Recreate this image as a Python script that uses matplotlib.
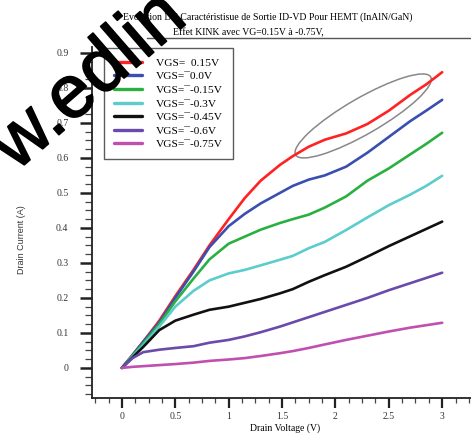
import numpy as np
import matplotlib
matplotlib.use("Agg")
import matplotlib.pyplot as plt
import matplotlib.patheffects as pe
from matplotlib.patches import Ellipse
from matplotlib.transforms import IdentityTransform
from matplotlib.ticker import MultipleLocator, FixedLocator

# drain voltage (V)
vds = [0, 0.1, 0.2, 0.35, 0.5, 0.67, 0.82, 1.0, 1.15, 1.3, 1.48, 1.6, 1.75,
       1.9, 2.1, 2.3, 2.5, 2.7, 2.85, 3.0]

# drain current (A) for each gate voltage
id_p015 = [0, 0.037, 0.075, 0.135, 0.205, 0.28, 0.35, 0.425, 0.485, 0.535, 0.58,
           0.605, 0.632, 0.652, 0.67, 0.697, 0.735, 0.78, 0.81, 0.845]
id_000 = [0, 0.037, 0.075, 0.13, 0.2, 0.275, 0.345, 0.405, 0.44, 0.47, 0.5,
          0.52, 0.538, 0.55, 0.575, 0.615, 0.66, 0.705, 0.735, 0.766]
id_m015 = [0, 0.035, 0.07, 0.125, 0.19, 0.255, 0.31, 0.355, 0.375, 0.395, 0.414,
           0.425, 0.438, 0.458, 0.49, 0.535, 0.57, 0.61, 0.64, 0.672]
id_m030 = [0, 0.033, 0.065, 0.118, 0.175, 0.22, 0.25, 0.27, 0.28, 0.293, 0.309,
           0.32, 0.342, 0.36, 0.394, 0.43, 0.465, 0.495, 0.52, 0.549]
id_m045 = [0, 0.03, 0.06, 0.108, 0.135, 0.152, 0.166, 0.175, 0.186, 0.197, 0.213,
           0.225, 0.246, 0.265, 0.289, 0.318, 0.348, 0.376, 0.397, 0.418]
id_m060 = [0, 0.028, 0.045, 0.052, 0.057, 0.062, 0.072, 0.08, 0.09, 0.102, 0.118,
           0.13, 0.145, 0.16, 0.18, 0.2, 0.222, 0.242, 0.257, 0.272]
id_m075 = [0, 0.003, 0.005, 0.008, 0.011, 0.015, 0.02, 0.024, 0.028, 0.034, 0.042,
           0.048, 0.057, 0.067, 0.08, 0.092, 0.104, 0.115, 0.122, 0.129]

labels = ["VGS=  0.15V", "VGS=\u00af0.0V", "VGS=\u00af-0.15V", "VGS=\u00af-0.3V",
          "VGS=\u00af-0.45V", "VGS=\u00af-0.6V", "VGS=\u00af-0.75V"]
series = [id_p015, id_000, id_m015, id_m030, id_m045, id_m060, id_m075]
colors = ["#ff2222", "#3a4fb0", "#2ab040", "#5ccccc", "#111111", "#6a4aaa", "#c050b0"]

W, H = 471, 443
fig = plt.figure(figsize=(W / 100, H / 100), dpi=100)
ax = fig.add_axes([92 / W, 1 - 398 / H, 1 - 92 / W, (398 - 47) / H])

for y, c, lab in zip(series, colors, labels):
    ax.plot(vds, y, color=c, lw=1.9, label=lab, solid_joinstyle="round",
            solid_capstyle="round")

ax.set_xlim(-0.28, 3.27)
ax.set_ylim(-0.086, 0.917)

for s in ["top", "right"]:
    ax.spines[s].set_visible(False)
for s in ["left", "bottom"]:
    ax.spines[s].set_linewidth(1.3)
    ax.spines[s].set_color("#222222")

ax.xaxis.set_major_locator(FixedLocator([0, 0.5, 1, 1.5, 2, 2.5, 3]))
ax.xaxis.set_minor_locator(MultipleLocator(0.125))
ax.yaxis.set_major_locator(FixedLocator(np.round(np.arange(0, 0.95, 0.1), 1)))
ax.yaxis.set_minor_locator(MultipleLocator(0.025))
ax.set_xticklabels(["0", "0.5", "1", "1.5", "2", "2.5", "3"])
ax.set_yticklabels(["0", "0.1", "0.2", "0.3", "0.4", "0.5", "0.6", "0.7", "0.8", "0.9"])
ax.tick_params(axis="x", which="major", direction="out", length=7, width=1.6,
               pad=3, labelsize=7, colors="#222222")
ax.tick_params(axis="x", which="minor", direction="out", length=3.5, width=0.9,
               colors="#444444")
ax.tick_params(axis="y", which="major", direction="out", length=9, width=1.8,
               pad=8, labelsize=7, colors="#222222")
ax.tick_params(axis="y", which="minor", direction="out", length=5, width=0.9,
               colors="#444444")
for t in ax.get_xticklabels() + ax.get_yticklabels():
    t.set_family("Liberation Serif")
    t.set_color("#333333")

leg = ax.legend(loc="upper left", bbox_to_anchor=(0.032, 0.997), borderaxespad=0,
                fancybox=False, frameon=True, handlelength=2.5, handletextpad=1.2,
                borderpad=0.85, labelspacing=0.32,
                prop={"family": "Liberation Serif", "size": 8.2})
leg.get_frame().set_edgecolor("#333333")
leg.get_frame().set_linewidth(1.0)
for h in leg.get_lines():
    h.set_linewidth(2.4)

# KINK ellipse
cx, cy = ax.transData.transform((2.26, 0.72))
ax.add_artist(Ellipse((cx, cy), 156, 36, angle=30, transform=IdentityTransform(),
                      fill=False, edgecolor="#888888", lw=1.1))

fig.text(268 / W, 1 - 17 / H,
         "Evolution DC Caract\u00e9ristisue de Sortie ID-VD Pour HEMT (InAlN/GaN)",
         ha="center", va="center", family="Liberation Serif", fontsize=7)
fig.text(248 / W, 1 - 33 / H, "Effet KINK avec VG=0.15V \u00e0 -0.75V,",
         ha="center", va="center", family="Liberation Serif", fontsize=7)
fig.add_artist(plt.Line2D([147 / W, 1], [1 - 38 / H, 1 - 38 / H], color="#555555",
                          lw=1.0))

fig.text(285 / W, 1 - 428 / H, "Drain Voltage (V)", ha="center", va="center",
         family="Liberation Serif", fontsize=7)
fig.text(22 / W, 1 - 240 / H, "Drain Current (A)", ha="center", va="center",
         rotation=90, family="Liberation Sans", fontsize=6.5, color="#333333")

# watermark
wm = fig.text(16 / W, 1 - 172 / H, "w.edlin", rotation=41, rotation_mode="anchor",
              ha="left", va="baseline", family="Liberation Sans", fontsize=54,
              color="black")
wm.set_path_effects([pe.withStroke(linewidth=1.2, foreground="black")])

fig.savefig("out.png", dpi=100)
